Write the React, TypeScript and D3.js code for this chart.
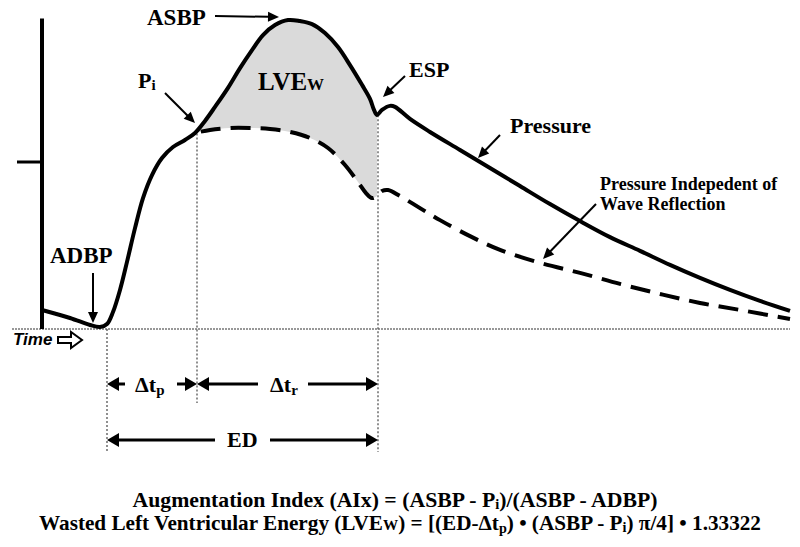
import React from "react";
import * as d3 from "d3";

// Time axis (arbitrary ms-like units) and pressure (arbitrary units)
const PRESSURE_T = [2, 30, 50, 60, 67, 73, 80, 87, 95, 103, 112, 122, 133, 145, 155, 165, 175, 188, 200, 212, 223, 235, 248, 260, 272, 285, 298, 310, 322, 330, 334, 337, 342, 350, 355, 370, 390, 420, 450, 480, 510, 540, 570, 600, 630, 660, 690, 720, 750];
const PRESSURE_P = [5.7, 3.3, 1.2, 0.6, 1.5, 5.1, 11.7, 20.1, 30.2, 39.2, 46.1, 51.2, 54.5, 56.6, 58.7, 62.3, 66.5, 72.2, 78.1, 83.5, 88.0, 91.0, 92.5, 92.2, 91.3, 88.6, 84.4, 79.0, 73.1, 68.9, 65.6, 64.1, 65.6, 66.8, 66.5, 62.9, 59.0, 53.6, 48.2, 42.8, 37.4, 32.3, 27.5, 23.4, 19.2, 15.3, 11.7, 8.4, 5.4];

const UNREFLECTED_T = [155, 170, 190, 210, 230, 250, 270, 288, 305, 318, 326, 332, 337, 342, 348, 360, 380, 400, 430, 460, 500, 540, 580, 620, 660, 700, 750];
const UNREFLECTED_P = [58.7, 59.6, 60.2, 60.2, 59.9, 59.0, 57.2, 54.2, 49.1, 44.0, 40.7, 39.2, 39.8, 41.3, 41.6, 39.8, 36.2, 32.6, 27.8, 23.7, 19.8, 16.8, 13.5, 10.5, 7.8, 5.7, 3.0];

const ADBP_T = 67;
const PI_T = 157;
const ESP_T = 338;
const Y_TICKS = [50];
const AXIS_TOP = 93;

const W = 800;
const H = 547;
const x = d3.scaleLinear().domain([0, 750]).range([40, 790]);
const y = d3.scaleLinear().domain([0, 100]).range([329, -5]);

const pressure = PRESSURE_T.map((t, i) => [t, PRESSURE_P[i]] as [number, number]);
const unreflected = UNREFLECTED_T.map((t, i) => [t, UNREFLECTED_P[i]] as [number, number]);

const line = d3
  .line<[number, number]>()
  .x((d) => x(d[0]))
  .y((d) => y(d[1]))
  .curve(d3.curveCatmullRom.alpha(0.5));

const shadeTop = pressure.filter((d) => d[0] >= 155 && d[0] <= 337);
const shadeBottom = unreflected.filter((d) => d[0] >= 155 && d[0] <= 337).reverse();
const shadePath = (line(shadeTop) || "") + (line(shadeBottom) || "").replace(/^M/, "L") + "Z";

const SERIF = "Liberation Serif";
const SANS = "Liberation Sans";

function Arrow({ x1, y1, x2, y2, w = 2, hl = 11, hw = 5 }: { x1: number; y1: number; x2: number; y2: number; w?: number; hl?: number; hw?: number }) {
  const dx = x2 - x1;
  const dy = y2 - y1;
  const len = Math.sqrt(dx * dx + dy * dy);
  const ux = dx / len;
  const uy = dy / len;
  const bx = x2 - ux * hl;
  const by = y2 - uy * hl;
  const px = -uy * hw;
  const py = ux * hw;
  return (
    <g>
      <line x1={x1} y1={y1} x2={bx + ux * 1} y2={by + uy * 1} stroke="#000" strokeWidth={w} />
      <polygon points={`${x2},${y2} ${bx + px},${by + py} ${bx - px},${by - py}`} fill="#000" />
    </g>
  );
}

function T(props: any) {
  const { children, style, ...rest } = props;
  return (
    <text {...rest} fill="#000" style={{ fontFamily: SERIF, fontWeight: "bold", ...(style || {}) }}>
      {children}
    </text>
  );
}

export default function App() {
  const bx = x(ADBP_T);
  const px = x(PI_T);
  const ex = x(ESP_T);
  const base = y(0);
  return (
    <svg width={W} height={H} style={{ position: "fixed", left: 0, top: 0, display: "block", background: "#fff" }}>
      <rect x={0} y={0} width={W} height={H} fill="#fff" />
      {/* shaded wasted energy */}
      <path d={shadePath} fill="#dadada" stroke="none" />

      {/* baseline */}
      <line x1={12} y1={base} x2={790} y2={base} stroke="#777" strokeWidth={1.5} strokeDasharray="2 1" />

      {/* dotted verticals */}
      <line x1={bx} y1={base} x2={bx} y2={452} stroke="#555" strokeWidth={1.3} strokeDasharray="2 2" />
      <line x1={px} y1={y(58.5)} x2={px} y2={403} stroke="#555" strokeWidth={1.3} strokeDasharray="2 2" />
      <line x1={ex} y1={y(64)} x2={ex} y2={452} stroke="#555" strokeWidth={1.3} strokeDasharray="2 2" />

      {/* axis */}
      <line x1={42} y1={y(AXIS_TOP)} x2={42} y2={base} stroke="#000" strokeWidth={4} />
      {Y_TICKS.map((v) => (
        <line key={v} x1={17} y1={y(v)} x2={42} y2={y(v)} stroke="#000" strokeWidth={3} />
      ))}

      {/* curves */}
      <path d={line(unreflected) || ""} fill="none" stroke="#000" strokeWidth={4} strokeDasharray="20 10" strokeDashoffset={-6} />
      <path d={line(pressure) || ""} fill="none" stroke="#000" strokeWidth={4} strokeLinejoin="round" />

      {/* labels */}
      <T x={147} y={25} fontSize={23}>ASBP</T>
      <Arrow x1={215} y1={16} x2={279} y2={17} />

      <T x={138} y={88} fontSize={22}>
        P<tspan fontSize={15} dy={2}>i</tspan>
      </T>
      <Arrow x1={165} y1={93} x2={195} y2={123} />

      <T x={258} y={90} fontSize={25}>
        LVE<tspan fontSize={17}>W</tspan>
      </T>

      <T x={409} y={77} fontSize={22}>ESP</T>
      <Arrow x1={405} y1={76} x2={383} y2={97} />

      <T x={510} y={133} fontSize={22}>Pressure</T>
      <Arrow x1={500} y1={135} x2={478} y2={158} />

      <T x={600} y={190} fontSize={18}>Pressure Indepedent of</T>
      <T x={600} y={210} fontSize={18}>Wave Reflection</T>
      <Arrow x1={596} y1={204} x2={543} y2={259} />

      <T x={50} y={263} fontSize={23}>ADBP</T>
      <Arrow x1={93} y1={273} x2={93} y2={323} />

      {/* interval arrows */}
      <Arrow x1={125} y1={384} x2={bx} y2={384} w={3} hl={12} hw={7} />
      <T x={135} y={392} fontSize={22}>
        Δt<tspan fontSize={15} dy={3}>p</tspan>
      </T>
      <Arrow x1={177} y1={384} x2={px} y2={384} w={3} hl={12} hw={7} />
      <Arrow x1={258} y1={384} x2={px} y2={384} w={3} hl={12} hw={7} />
      <T x={270} y={392} fontSize={22}>
        Δt<tspan fontSize={15} dy={3}>r</tspan>
      </T>
      <Arrow x1={308} y1={384} x2={ex} y2={384} w={3} hl={12} hw={7} />

      <Arrow x1={215} y1={440} x2={bx} y2={440} w={3} hl={12} hw={7} />
      <T x={227} y={447} fontSize={22}>ED</T>
      <Arrow x1={270} y1={440} x2={ex} y2={440} w={3} hl={12} hw={7} />

      {/* formulas */}
      <T x={395} y={507} fontSize={21} textAnchor="middle" textLength={525} lengthAdjust="spacingAndGlyphs">
        Augmentation Index (AIx) = (ASBP - P<tspan fontSize={14} dy={2}>i</tspan>
        <tspan dy={-2}>)/(ASBP - ADBP)</tspan>
      </T>
      <T x={400} y={530} fontSize={21} textAnchor="middle" textLength={722} lengthAdjust="spacingAndGlyphs">
        Wasted Left Ventricular Energy (LVE<tspan fontSize={15}>W</tspan>
        <tspan>) = [(ED-Δt</tspan>
        <tspan fontSize={14} dy={3}>p</tspan>
        <tspan dy={-3}>) • (ASBP - P</tspan>
        <tspan fontSize={14} dy={2}>i</tspan>
        <tspan dy={-2}>) π/4] • 1.33322</tspan>
      </T>

      {/* Time label */}
      <text x={13} y={345} style={{ fontFamily: SANS, fontWeight: "bold", fontStyle: "italic" }} fontSize={17} fill="#000">
        Time
      </text>
      <path d="M58,337 L71,337 L71,332 L82,340 L71,348 L71,343 L58,343 Z" fill="#fff" stroke="#000" strokeWidth={2} strokeLinejoin="miter" />
    </svg>
  );
}
